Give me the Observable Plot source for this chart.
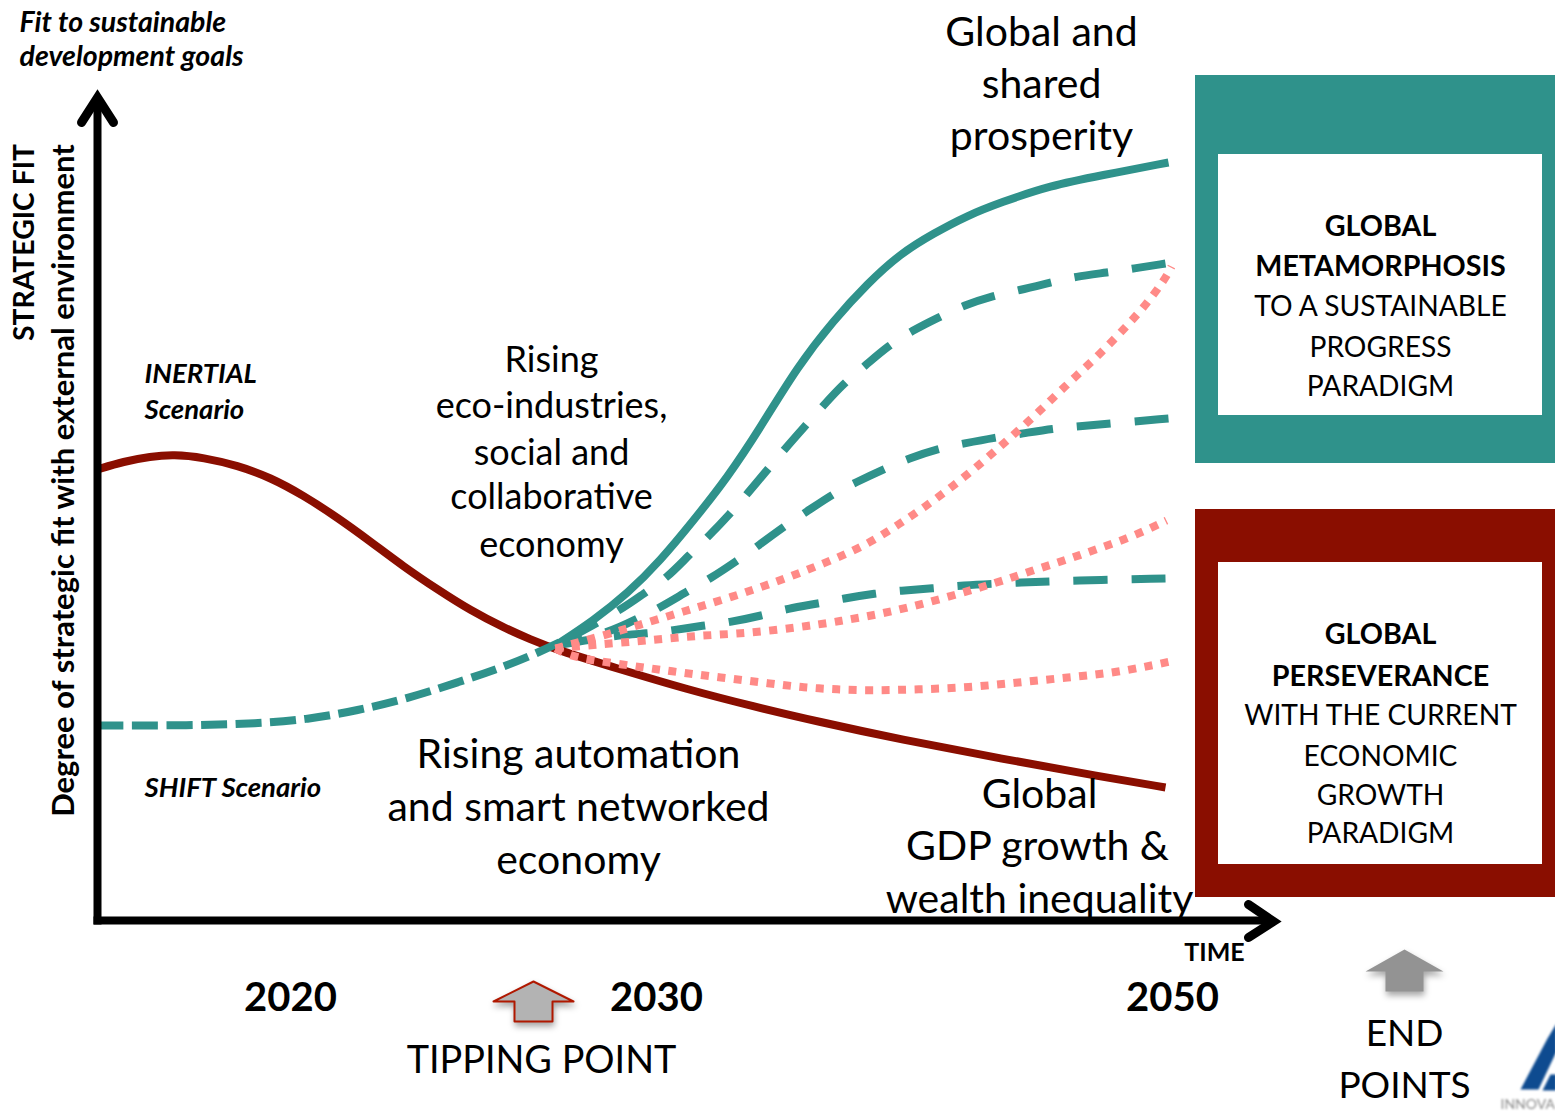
<!DOCTYPE html>
<html>
<head>
<meta charset="utf-8">
<script src="https://cdn.jsdelivr.net/npm/d3@7"></script>
<script src="https://cdn.jsdelivr.net/npm/@observablehq/plot@0.6"></script>
<style>
  html, body { margin: 0; padding: 0; background: #fff; }
  svg { display: block; }
</style>
</head>
<body>
<div id="chart"></div>
<script>
// Scenario curves, as [time position, fit position] in the chart's drawing units.
const inertialScenario = [[97,469],[123,461],[150,456],[173,454],[203,457],[237,465],[270,477],[303,495],[337,517],[370,541],[403,566],[437,589],[470,610],[503,627],[530,639],[555,649],[620,669],[687,689],[753,706],[817,721],[900,739],[1000,758],[1100,776],[1165,787]];
const shiftScenario = [[97,725],[190,725],[257,723],[307,719],[357,710],[407,698],[457,682],[507,665],[540,651],[563,640]];
const metamorphosisSolid = [[555,645],[593,620],[627,593],[660,560],[693,520],[727,477],[760,427],[797,366],[833,320],[867,283],[900,253],[933,233],[967,215],[1000,202],[1050,185],[1100,175],[1168,162]];
const tealDashHigh = [[555,645],[620,610],[643,593],[667,577],[688,555],[707,537],[730,513],[747,493],[768,468],[783,450],[805,425],[823,405],[843,383],[865,365],[888,345],[912,330],[938,317],[963,305],[993,295],[1018,290],[1050,282],[1075,276],[1107,272],[1133,268],[1165,263]];
const tealDashMiddle = [[555,645],[607,633],[637,618],[660,607],[688,590],[710,578],[737,560],[758,545],[785,525],[805,512],[833,493],[855,482],[885,468],[908,458],[938,448],[963,443],[995,437],[1022,433],[1053,428],[1078,426],[1110,423],[1168,418]];
const tealDashLow = [[555,645],[613,635],[647,633],[672,630],[703,625],[728,622],[762,615],[787,608],[818,603],[843,598],[875,593],[900,590],[933,588],[958,585],[1017,582],[1073,580],[1165,578]];
const pinkDotsHigh = [[555,648],[603,635],[637,625],[683,611],[730,597],[777,581],[808,569],[840,556],[870,542],[898,524],[925,506],[952,486],[978,465],[1003,443],[1027,422],[1052,398],[1075,376],[1100,353],[1123,329],[1145,305],[1165,278],[1171,266]];
const pinkDotsMiddle = [[555,648],[597,644],[647,640],[697,635],[747,633],[812,625],[843,620],[877,614],[908,607],[942,598],[973,589],[1003,580],[1035,569],[1067,559],[1098,548],[1130,537],[1166,520]];
const pinkDotsLow = [[555,648],[572,657],[622,664],[672,671],[720,677],[770,683],[803,687],[837,689],[870,690],[918,689],[968,687],[1018,682],[1067,677],[1117,672],[1170,661]];

// Text of the chart.
const topAxisNote = ["Fit to sustainable", "development goals"];
const verticalAxisTitle = "STRATEGIC FIT";
const verticalAxisSubtitle = "Degree of strategic fit with external environment";
const inertialLabel = ["INERTIAL", "Scenario"];
const shiftLabel = "SHIFT Scenario";
const prosperityLabel = ["Global and", "shared", "prosperity"];
const ecoLabel = ["Rising", "eco-industries,", "social and", "collaborative", "economy"];
const automationLabel = ["Rising automation", "and smart networked", "economy"];
const inequalityLabel = ["Global", "GDP growth &", "wealth inequality"];
const metamorphosisBold = ["GLOBAL", "METAMORPHOSIS"];
const metamorphosisPlain = ["TO A SUSTAINABLE", "PROGRESS", "PARADIGM"];
const perseveranceBold = ["GLOBAL", "PERSEVERANCE"];
const perseverancePlain = ["WITH THE CURRENT", "ECONOMIC", "GROWTH", "PARADIGM"];
const yearLabels = ["2020", "2030", "2050"];
const yearPositions = [290, 656, 1172];
const logoStripe = [[1520,1089],[1538,1089],[1556,1051],[1556,1023],[1547,1038],[1520,1089]];
const logoFoot = [[1542,1090],[1556,1090],[1556,1074],[1550,1074],[1542,1090]];

const TEAL = "#2f928b";
const DARK_RED = "#8a0e00";
const PINK = "#ff8a87";
const LOGO_BLUE = "#0e4b90";
const FONT = "Lato, Carlito, sans-serif";
const DOTTED = "8 8.5";

const curve = (points, options) => Plot.line(points, {x: d => d[0], y: d => d[1], curve: "basis", fill: "none", strokeLinecap: "butt", ...options});
// Branch dashes are laid out from the 2050 end, so each branch finishes on a whole dash.
const branch = (points) => curve([...points].reverse(), {stroke: TEAL, strokeWidth: 8, strokeDasharray: "34 24"});
const poly = (points, options) => Plot.line(points, {x: d => d[0], y: d => d[1], curve: "linear", ...options});
const panel = (x1, x2, y1, y2, fill) => Plot.rect([0], {x1: () => x1, x2: () => x2, y1: () => y1, y2: () => y2, fill});

// One label per line; each line sits in its own slot.
const lines = (texts, xs, ys, options) => Plot.text(texts.map((t, i) => ({t, x: Array.isArray(xs) ? xs[i] : xs, y: ys[i]})), {
  x: "x", y: "y", text: "t", fontFamily: FONT, fill: "#000", lineAnchor: "middle", ...options
});

const axisStyle = {stroke: "#000", strokeWidth: 9, fill: "none", strokeLinecap: "round", strokeLinejoin: "miter", strokeMiterlimit: 10};
const shaftStyle = {...axisStyle, strokeWidth: 8, strokeLinecap: "butt"};
const shadow = "drop-shadow(1px 4px 3px rgba(0,0,0,0.35))";
const soft = "blur(0.8px)";

const chart = Plot.plot({
  width: 1555,
  height: 1111,
  margin: 0,
  style: {background: "#fff"},
  x: {axis: null, domain: [0, 1555], range: [0, 1555]},
  y: {axis: null, domain: [0, 1111], range: [0, 1111]},
  marks: [
    // Outcome panels on the right.
    panel(1195, 1555, 75, 463, TEAL),
    panel(1218, 1542, 154, 415, "#fff"),
    panel(1195, 1555, 509, 897, DARK_RED),
    panel(1218, 1542, 562, 864, "#fff"),

    // Scenario curves.
    branch(tealDashLow),
    branch(tealDashMiddle),
    branch(tealDashHigh),
    curve(metamorphosisSolid, {stroke: TEAL, strokeWidth: 8}),
    curve(inertialScenario, {stroke: DARK_RED, strokeWidth: 8}),
    curve(shiftScenario, {stroke: TEAL, strokeWidth: 8, strokeDasharray: "26 8.5"}),
    curve(pinkDotsLow, {stroke: PINK, strokeWidth: 8, strokeDasharray: DOTTED}),
    curve(pinkDotsMiddle, {stroke: PINK, strokeWidth: 8, strokeDasharray: DOTTED}),
    curve(pinkDotsHigh, {stroke: PINK, strokeWidth: 8, strokeDasharray: DOTTED}),

    // Annotations along the curves.
    lines(prosperityLabel, 1041, [32, 84, 136], {fontSize: 41}),
    lines(ecoLabel, 551, [360, 406, 453, 497, 545], {fontSize: 36}),
    lines(automationLabel, 578, [754, 807, 860], {fontSize: 41}),
    lines(inequalityLabel, [1039, 1037, 1039], [794, 846, 899], {fontSize: 41}),

    // Axes with open arrow heads.
    poly([[97, 924], [97, 100]], shaftStyle),
    poly([[81, 122], [97, 97], [113, 122]], axisStyle),
    poly([[93, 920], [1270, 920]], shaftStyle),
    poly([[1248, 904], [1273, 921], [1248, 937]], axisStyle),

    // Tipping point and end point markers.
    poly([[533,981],[573,1001],[552,1001],[552,1021],[514,1021],[514,1001],[493,1001],[533,981]], {fill: "#b3b3b3", stroke: "#b01800", strokeWidth: 2, imageFilter: shadow}),
    poly([[1404,949],[1443,971],[1423,971],[1423,991],[1385,991],[1385,971],[1365,971],[1404,949]], {fill: "#939393", imageFilter: shadow}),

    // Axis labels.
    lines(topAxisNote, 19, [22, 56], {textAnchor: "start", fontSize: 28.5, fontWeight: 700, fontStyle: "italic"}),
    lines([verticalAxisTitle], 24, [242], {rotate: -90, fontSize: 28.3, fontWeight: 700}),
    lines([verticalAxisSubtitle], 64, [480], {rotate: -90, fontSize: 31, fontWeight: 700}),
    lines(["TIME"], 1214, [952], {fontSize: 25, fontWeight: 700}),
    lines(yearLabels, yearPositions, [998, 998, 998], {fontSize: 40, fontWeight: 700}),
    lines(["TIPPING POINT"], 541, [1060], {fontSize: 37.8}),
    lines(["END", "POINTS"], 1404, [1034, 1086], {fontSize: 37}),

    // Scenario names.
    lines(inertialLabel, 144, [374, 410], {textAnchor: "start", fontSize: 27.5, fontWeight: 700, fontStyle: "italic"}),
    lines([shiftLabel], 144, [788], {textAnchor: "start", fontSize: 27.5, fontWeight: 700, fontStyle: "italic"}),

    // Panel captions.
    lines(metamorphosisBold, 1380, [226, 266], {fontSize: 28.7, fontWeight: 700}),
    lines(metamorphosisPlain, 1380, [306, 347, 386], {fontSize: 28.2}),
    lines(perseveranceBold, 1380, [634, 676], {fontSize: 28.7, fontWeight: 700}),
    lines(perseverancePlain, 1380, [715, 756, 795, 833], {fontSize: 28.2}),

    // Corner logo, cut off by the edge of the page.
    poly(logoStripe, {fill: LOGO_BLUE, imageFilter: soft}),
    poly(logoFoot, {fill: LOGO_BLUE, imageFilter: soft}),
    lines(["INNOVA"], 1500, [1104], {textAnchor: "start", fontSize: 14, fill: "#8a8a8a", imageFilter: soft})
  ]
});
document.getElementById("chart").append(chart);
</script>
</body>
</html>
